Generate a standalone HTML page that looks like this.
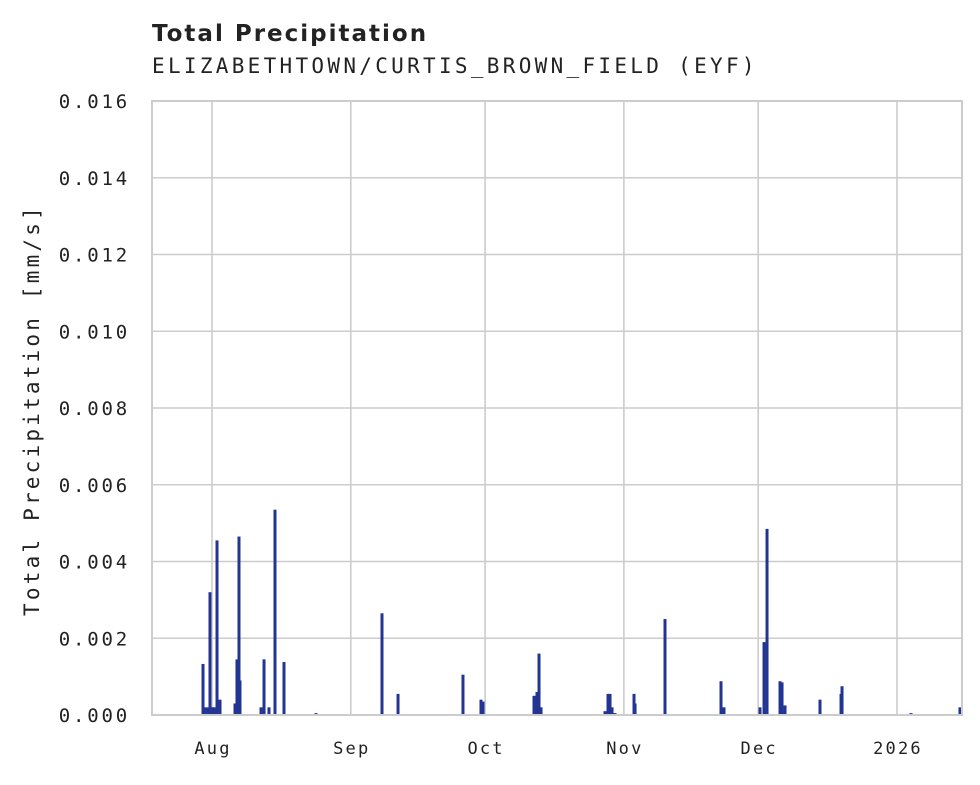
<!DOCTYPE html>
<html><head><meta charset="utf-8">
<style>
body{margin:0;background:#fff;}
svg text{font-family:"DejaVu Sans Mono","Liberation Mono",monospace;fill:#222;}
</style></head>
<body>
<svg id="chart" width="980" height="780" viewBox="0 0 980 780" xmlns="http://www.w3.org/2000/svg">
<text x="152" y="41" style="font-family:'DejaVu Sans','Liberation Sans',sans-serif;font-weight:bold;font-size:23px;letter-spacing:2px">Total Precipitation</text>
<text x="152" y="73" style="font-size:21px;letter-spacing:3.3px">ELIZABETHTOWN/CURTIS_BROWN_FIELD (EYF)</text>
<text transform="translate(39,410) rotate(-90)" text-anchor="middle" style="font-size:21px;letter-spacing:3.2px">Total Precipitation [mm/s]</text>
<g id="grid"></g>
<g id="bars"></g>
<g id="ticks"></g>
<rect x="152" y="101" width="810" height="614" fill="none" stroke="#ccc" stroke-width="2"/>
</svg>
<script>
// days since Aug 1 2025 (fractional)
const barDays=[-2.01,-1.56,-0.89,-0.45,0.22,0.45,1.12,1.79,5.14,5.58,6.03,6.25,10.95,11.62,12.73,14.07,16.08,23.23,37.97,41.55,56.06,60.08,60.53,71.92,72.59,73.04,73.49,87.78,88.45,88.90,89.35,90.02,94.26,94.49,101.18,113.69,114.36,122.40,123.30,123.97,126.87,127.32,127.99,135.80,140.50,140.72,156.13,167.07];
const barValues=[0.00133,0.0002,0.0002,0.0032,0.0002,0.0002,0.00455,0.0004,0.0003,0.00145,0.00465,0.0009,0.0002,0.00145,0.0002,0.00535,0.00138,0.00005,0.00265,0.00055,0.00105,0.0004,0.00035,0.0005,0.0006,0.0016,0.0002,0.0001,0.00055,0.00055,0.0002,0.00005,0.00055,0.0003,0.0025,0.00088,0.0002,0.0002,0.0019,0.00485,0.00088,0.00085,0.00025,0.0004,0.00055,0.00075,0.00005,0.0002];
const yTicks=[0,0.002,0.004,0.006,0.008,0.010,0.012,0.014,0.016];
const xTickDays=[0,31,61,92,122,153];
const xTickLabels=["Aug","Sep","Oct","Nov","Dec","2026"];

const NS="http://www.w3.org/2000/svg";
const X0=152,X1=962,Y0=715,Y1=101;
const xs=d=>212+d*685/153;
const ys=v=>Y0-(v/0.016)*(Y0-Y1);
function mk(tag,attrs,parent){const e=document.createElementNS(NS,tag);for(const k in attrs)e.setAttribute(k,attrs[k]);parent.appendChild(e);return e;}
const grid=document.getElementById('grid'),bars=document.getElementById('bars'),ticks=document.getElementById('ticks');
yTicks.forEach(t=>{
  const l=mk('line',{x1:X0,x2:X1,y1:ys(t),y2:ys(t),stroke:'#ccc','stroke-width':1.6},grid);
  
  
  const tx=mk('text',{x:130,y:ys(t)+7,'text-anchor':'end','font-size':'19px','letter-spacing':'2.8px'},ticks);
  tx.textContent=t.toFixed(3);
  
  
});
xTickDays.forEach((d,i)=>{
  const l=mk('line',{x1:xs(d),x2:xs(d),y1:Y1,y2:Y0,stroke:'#ccc','stroke-width':1.6},grid);
  
  
  const tx=mk('text',{x:xs(d)+1,y:754,'text-anchor':'middle','font-size':'17px','letter-spacing':'2.2px'},ticks);
  tx.textContent=xTickLabels[i];
  
  
});
barDays.forEach((d,i)=>{
  const y=ys(barValues[i]);
  const r=mk('rect',{x:xs(d)-1.5,y:y,width:3,height:Y0-y,fill:'#233593'},bars);
  
  
});
</script>
</body></html>
